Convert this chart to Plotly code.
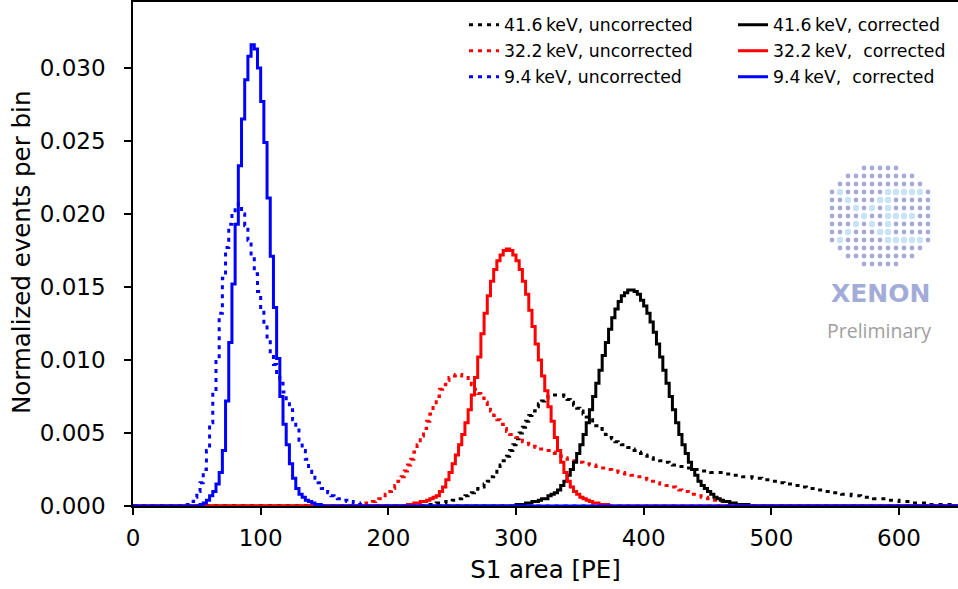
import plotly.graph_objects as go

# ---------------- data ----------------
BIN_WIDTH = 2.5
N_BINS = 260  # bins covering 0 .. 650 PE

x_tick_vals = [0, 100, 200, 300, 400, 500, 600]
y_tick_vals = [0.000, 0.005, 0.010, 0.015, 0.020, 0.025, 0.030]

# 41.6 keV, uncorrected (first bin left edge, then per-bin values)
unc_416_start = 230.0
unc_416 = [
    0.0001, 0.0001, 0.0001, 0.0002, 0.0002, 0.0002, 0.0003, 0.0003, 0.0004, 0.0004,
    0.0005, 0.0006, 0.0007, 0.0008, 0.0009, 0.0010, 0.0012, 0.0013, 0.0015, 0.0017,
    0.0020, 0.0022, 0.0025, 0.0028, 0.0031, 0.0034, 0.0038, 0.0042, 0.0046, 0.0050,
    0.0054, 0.0058, 0.0062, 0.0065, 0.0068, 0.0070, 0.0072, 0.0074, 0.0075, 0.0076,
    0.0076, 0.0076, 0.0076, 0.0075, 0.0073, 0.0071, 0.0069, 0.0067, 0.0065, 0.0063,
    0.0061, 0.0059, 0.0057, 0.0055, 0.0053, 0.0051, 0.0049, 0.0047, 0.0046, 0.0044,
    0.0043, 0.0042, 0.0041, 0.0040, 0.0039, 0.0038, 0.0037, 0.0036, 0.0035, 0.0034,
    0.0033, 0.0032, 0.0032, 0.0031, 0.0030, 0.0030, 0.0029, 0.0028, 0.0028, 0.0027,
    0.0027, 0.0026, 0.0026, 0.0025, 0.0025, 0.0025, 0.0024, 0.0024, 0.0024, 0.0023,
    0.0023, 0.0023, 0.0023, 0.0022, 0.0022, 0.0022, 0.0021, 0.0021, 0.0021, 0.0020,
    0.0020, 0.0020, 0.0019, 0.0019, 0.0019, 0.0018, 0.0018, 0.0018, 0.0017, 0.0017,
    0.0016, 0.0016, 0.0015, 0.0015, 0.0015, 0.0014, 0.0014, 0.0013, 0.0013, 0.0012,
    0.0012, 0.0012, 0.0011, 0.0011, 0.0010, 0.0010, 0.0010, 0.0009, 0.0009, 0.0009,
    0.0008, 0.0008, 0.0008, 0.0007, 0.0007, 0.0007, 0.0006, 0.0006, 0.0006, 0.0006,
    0.0005, 0.0005, 0.0005, 0.0005, 0.0004, 0.0004, 0.0004, 0.0004, 0.0003, 0.0003,
    0.0003, 0.0003, 0.0002, 0.0002, 0.0002, 0.0002, 0.0002, 0.0001, 0.0001, 0.0001,
    0.0001, 0.0001, 0.0001, 0.0001,
]

# 32.2 keV, uncorrected
unc_322_start = 180.0
unc_322 = [
    0.0001, 0.0002, 0.0002, 0.0003, 0.0004, 0.0005, 0.0006, 0.0008, 0.0010, 0.0012,
    0.0014, 0.0017, 0.0020, 0.0024, 0.0028, 0.0032, 0.0037, 0.0042, 0.0048, 0.0053,
    0.0058, 0.0063, 0.0069, 0.0075, 0.0080, 0.0083, 0.0086, 0.0088, 0.0089, 0.0090,
    0.0090, 0.0089, 0.0088, 0.0086, 0.0083, 0.0080, 0.0077, 0.0074, 0.0071, 0.0068,
    0.0065, 0.0062, 0.0059, 0.0056, 0.0053, 0.0051, 0.0049, 0.0048, 0.0047, 0.0045,
    0.0044, 0.0043, 0.0042, 0.0041, 0.0040, 0.0039, 0.0039, 0.0038, 0.0038, 0.0037,
    0.0036, 0.0035, 0.0034, 0.0033, 0.0032, 0.0031, 0.0031, 0.0030, 0.0030, 0.0029,
    0.0029, 0.0028, 0.0028, 0.0027, 0.0026, 0.0026, 0.0025, 0.0025, 0.0024, 0.0024,
    0.0023, 0.0023, 0.0022, 0.0022, 0.0021, 0.0021, 0.0020, 0.0020, 0.0019, 0.0018,
    0.0017, 0.0017, 0.0016, 0.0015, 0.0015, 0.0014, 0.0013, 0.0013, 0.0012, 0.0011,
    0.0010, 0.0010, 0.0009, 0.0008, 0.0008, 0.0007, 0.0006, 0.0006, 0.0005, 0.0004,
    0.0004, 0.0003, 0.0003, 0.0002, 0.0002, 0.0001, 0.0001,
]

# 9.4 keV, uncorrected
unc_94_start = 42.5
unc_94 = [
    0.0001, 0.0003, 0.0006, 0.0010, 0.0016, 0.0025, 0.0038, 0.0057, 0.0078, 0.0101,
    0.0132, 0.0156, 0.0177, 0.0193, 0.0201, 0.0205, 0.0207, 0.0200, 0.0192, 0.0182,
    0.0171, 0.0159, 0.0147, 0.0134, 0.0124, 0.0114, 0.0104, 0.0097, 0.0090, 0.0084,
    0.0078, 0.0072, 0.0066, 0.0059, 0.0052, 0.0045, 0.0038, 0.0032, 0.0027, 0.0023,
    0.0019, 0.0016, 0.0012, 0.0010, 0.0009, 0.0007, 0.0006, 0.0005, 0.0005, 0.0004,
    0.0003, 0.0003, 0.0002, 0.0002, 0.0001,
]

# 41.6 keV, corrected
cor_416_start = 300.0
cor_416 = [
    0.0001, 0.0001, 0.0001, 0.0002, 0.0002, 0.0003, 0.0003, 0.0004, 0.0005, 0.0005,
    0.0007, 0.0008, 0.0009, 0.0011, 0.0014, 0.0017, 0.0021, 0.0025, 0.0030, 0.0036,
    0.0042, 0.0049, 0.0057, 0.0066, 0.0075, 0.0084, 0.0093, 0.0103, 0.0112, 0.0121,
    0.0129, 0.0135, 0.0140, 0.0144, 0.0146, 0.0148, 0.0148, 0.0147, 0.0145, 0.0141,
    0.0137, 0.0132, 0.0126, 0.0119, 0.0111, 0.0102, 0.0093, 0.0084, 0.0075, 0.0066,
    0.0057, 0.0049, 0.0042, 0.0036, 0.0030, 0.0025, 0.0021, 0.0017, 0.0014, 0.0012,
    0.0010, 0.0008, 0.0006, 0.0005, 0.0004, 0.0003, 0.0003, 0.0002, 0.0002, 0.0001,
    0.0001, 0.0001, 0.0001,
]

# 32.2 keV, corrected
cor_322_start = 215.0
cor_322 = [
    0.0001, 0.0001, 0.0002, 0.0002, 0.0003, 0.0003, 0.0004, 0.0005, 0.0006, 0.0007,
    0.0010, 0.0013, 0.0018, 0.0023, 0.0029, 0.0035, 0.0042, 0.0049, 0.0057, 0.0066,
    0.0076, 0.0088, 0.0102, 0.0118, 0.0132, 0.0144, 0.0154, 0.0162, 0.0168, 0.0172,
    0.0175, 0.0176, 0.0175, 0.0172, 0.0168, 0.0162, 0.0154, 0.0145, 0.0134, 0.0123,
    0.0111, 0.0100, 0.0089, 0.0079, 0.0068, 0.0058, 0.0047, 0.0038, 0.0030, 0.0023,
    0.0017, 0.0013, 0.0010, 0.0008, 0.0006, 0.0005, 0.0004, 0.0003, 0.0002, 0.0002,
    0.0001, 0.0001, 0.0001,
]

# 9.4 keV, corrected
cor_94_start = 52.5
cor_94 = [
    0.0001, 0.0002, 0.0004, 0.0007, 0.0010, 0.0015, 0.0023, 0.0038, 0.0072, 0.0112,
    0.0152, 0.0193, 0.0233, 0.0265, 0.0292, 0.0308, 0.0316, 0.0313, 0.0300, 0.0277,
    0.0249, 0.0211, 0.0171, 0.0136, 0.0101, 0.0075, 0.0056, 0.0042, 0.0029, 0.0019,
    0.0012, 0.0008, 0.0006, 0.0004, 0.0003, 0.0002, 0.0001, 0.0001,
]

labels_unc = ["41.6\u2009keV, uncorrected", "32.2\u2009keV, uncorrected", "9.4\u2009keV, uncorrected"]
labels_cor = ["41.6\u2009keV, corrected", "32.2\u2009keV,\u00a0 corrected", "9.4\u2009keV,\u00a0 corrected"]
colors = ["#000000", "#ff0000", "#0000ff"]

x_title = "S1 area [PE]"
y_title = "Normalized events per bin"

# ---------------- helpers ----------------
edges = [i * BIN_WIDTH for i in range(N_BINS + 1)]


def full_hist(start, vals):
    arr = [0.0] * N_BINS
    i0 = int(round(start / BIN_WIDTH))
    for k, v in enumerate(vals):
        if 0 <= i0 + k < N_BINS:
            arr[i0 + k] = v
    return arr + [arr[-1]]


fig = go.Figure()

unc_sets = [(unc_416_start, unc_416), (unc_322_start, unc_322), (unc_94_start, unc_94)]
cor_sets = [(cor_416_start, cor_416), (cor_322_start, cor_322), (cor_94_start, cor_94)]

for i, ((st, vals), name, col) in enumerate(zip(unc_sets, labels_unc, colors)):
    fig.add_trace(go.Scatter(
        x=edges, y=full_hist(st, vals), mode="lines", name=name,
        line=dict(color=col, width=3, dash="4px,5px", shape="hv"),
        legend="legend", legendgroup=f"u{i}", hoverinfo="skip",
    ))
for i, ((st, vals), name, col) in enumerate(zip(cor_sets, labels_cor, colors)):
    fig.add_trace(go.Scatter(
        x=edges, y=full_hist(st, vals), mode="lines", name=name,
        line=dict(color=col, width=3, shape="hv"),
        legend="legend2", legendgroup=f"c{i}", hoverinfo="skip",
    ))

# ---------------- layout geometry ----------------
W, H = 958, 589
L, T, B = 133, 2, 506
PW, PH = W - L, B - T


def px(xp):
    return (xp - L) / PW


def py(yp):
    return (B - yp) / PH


# XENON logo (decoration): dot disc with light "XE" pattern
row_counts = [5, 9, 11, 13, 13, 13, 13, 13, 13, 13, 11, 9, 5]
light = set()
for k in range(7):
    light.add((3 + k, 1 + k))
    light.add((9 - k, 1 + k))
for r in range(3, 10):
    light.add((r, 7))
for c in range(7, 12):
    light.add((3, c))
    light.add((9, c))
for c in range(7, 11):
    light.add((6, c))

cx0, cy0, step = 880.0, 216.0, 8.0
shapes = []
for r, n in enumerate(row_counts):
    first = 6 - (n - 1) // 2
    for c in range(first, first + n):
        xc = cx0 + (c - 6) * step
        yc = cy0 + (r - 6) * step
        if (r, c) in light:
            rad, colr = 3.2, "#c6e4f4"
        else:
            rad, colr = 2.4, "#a6acd6"
        shapes.append(dict(
            type="circle", xref="paper", yref="paper",
            x0=px(xc - rad), x1=px(xc + rad), y0=py(yc + rad), y1=py(yc - rad),
            fillcolor=colr, line=dict(width=0), layer="above",
        ))

font_main = "DejaVu Sans"

annotations = [
    dict(text="<b>XENON</b>", x=px(880), y=py(293), xref="paper", yref="paper",
         showarrow=False, xanchor="center", yanchor="middle",
         font=dict(family="DejaVu Sans", size=25, color="#a3acd9")),
    dict(text="Preliminary", x=px(879), y=py(330), xref="paper", yref="paper",
         showarrow=False, xanchor="center", yanchor="middle",
         font=dict(family="Open Sans", size=19.5, color="#a0a0a0")),
    dict(text=y_title, x=px(21), y=py(253), xref="paper", yref="paper",
         showarrow=False, xanchor="center", yanchor="middle", textangle=-90,
         font=dict(family=font_main, size=24.5, color="black")),
]

legend_common = dict(
    yanchor="top", xanchor="left", bgcolor="rgba(0,0,0,0)", borderwidth=0,
    tracegroupgap=0.5, font=dict(family=font_main, size=17.3, color="black"),
)

fig.update_layout(
    width=W, height=H,
    margin=dict(l=L, r=0, t=T, b=H - B, autoexpand=False),
    paper_bgcolor="white", plot_bgcolor="white",
    font=dict(family=font_main, color="black"),
    shapes=shapes, annotations=annotations,
    legend=dict(x=px(464), y=py(7), **legend_common),
    legend2=dict(x=px(733), y=py(7), **legend_common),
    xaxis=dict(
        range=[0, (W - L) / 1.2767], tickvals=x_tick_vals, ticktext=[str(v) for v in x_tick_vals],
        showgrid=False, zeroline=False, showline=True, linecolor="black", linewidth=1.6,
        mirror=True, ticks="outside", ticklen=7, tickwidth=1.6, tickcolor="black",
        tickfont=dict(family=font_main, size=23, color="black"), ticklabelstandoff=4,
        title=dict(text=x_title, font=dict(family=font_main, size=24.5, color="black"), standoff=10),
    ),
    yaxis=dict(
        range=[0, (B - T) / 14600.0], tickvals=y_tick_vals, ticktext=[f"{v:.3f}" for v in y_tick_vals],
        showgrid=False, zeroline=False, showline=True, linecolor="black", linewidth=1.6,
        mirror=False, ticks="outside", ticklen=7, tickwidth=1.6, tickcolor="black",
        tickfont=dict(family=font_main, size=23, color="black"), ticklabelstandoff=14,
    ),
)

fig.write_html("out.html")
